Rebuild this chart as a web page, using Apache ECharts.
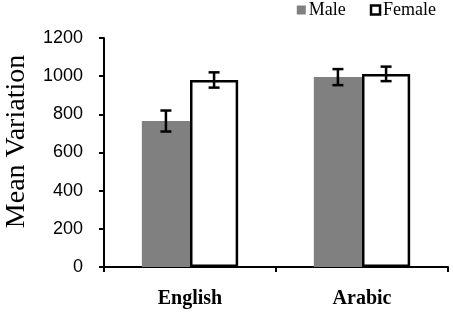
<!DOCTYPE html>
<html>
<head>
<meta charset="utf-8">
<script src="https://cdn.jsdelivr.net/npm/echarts@6/dist/echarts.min.js"></script>
<style>
  html, body { margin: 0; padding: 0; background: #fff; }
  #chart { width: 453px; height: 316px; }
</style>
</head>
<body>
<div id="chart"></div>
<script>
// data
var categories = ["English", "Arabic"];
var maleMean = [765, 995];
var maleErr = [55, 42];
var femaleMean = [980, 1012];
var femaleErr = [40, 38];
var yTicks = [0, 200, 400, 600, 800, 1000, 1200];

var gapPct = 44; // barCategoryGap in %

function errData(mean, err) {
  return mean.map(function (m, i) {
    return [i, m - err[i], m + err[i]];
  });
}

// error bar drawn at the left (-1) or right (+1) bar of a group
function errRender(side) {
  return function (params, api) {
    var lo = api.coord([api.value(0), api.value(1)]);
    var hi = api.coord([api.value(0), api.value(2)]);
    var catW = api.size([1, 0])[0];
    var barW = catW * (1 - gapPct / 100) / 2;
    var x = lo[0] + side * barW / 2;
    var cap = 5.5;
    var style = { stroke: "#000", lineWidth: 2.5 };
    return {
      type: "group",
      children: [
        { type: "line", shape: { x1: x, y1: lo[1], x2: x, y2: hi[1] }, style: style },
        { type: "line", shape: { x1: x - cap, y1: lo[1], x2: x + cap, y2: lo[1] }, style: style },
        { type: "line", shape: { x1: x - cap, y1: hi[1], x2: x + cap, y2: hi[1] }, style: style }
      ]
    };
  };
}

var chart = echarts.init(document.getElementById("chart"));
var option = {
  animation: false,
  backgroundColor: "#fff",
  legend: {
    top: -4,
    right: 12,
    itemWidth: 9,
    itemHeight: 9,
    itemGap: 24,
    icon: "rect",
    textStyle: { fontFamily: "Liberation Serif", fontSize: 18, color: "#000", padding: [0, 0, 0, -2] },
    data: [
      { name: "Male", itemStyle: { color: "#808080", borderWidth: 0 } },
      { name: "Female", itemStyle: { color: "#fff", borderColor: "#000", borderWidth: 2.5 } }
    ]
  },
  grid: { left: 104, right: 5, top: 38, bottom: 49, outerBoundsMode: "none" },
  xAxis: {
    type: "category",
    data: categories,
    axisLine: { lineStyle: { color: "#000", width: 2 } },
    axisTick: { show: true, length: 5, lineStyle: { color: "#000", width: 2 } },
    axisLabel: {
      margin: 22,
      fontFamily: "Liberation Serif",
      fontWeight: "bold",
      fontSize: 20,
      color: "#000"
    }
  },
  yAxis: {
    type: "value",
    min: yTicks[0],
    max: yTicks[yTicks.length - 1],
    interval: 200,
    name: "Mean Variation",
    nameLocation: "middle",
    nameGap: 73,
    nameTextStyle: { fontFamily: "Liberation Serif", fontSize: 28, color: "#000", padding: [0, 0, 0, 22] },
    splitLine: { show: false },
    axisLine: { show: true, lineStyle: { color: "#000", width: 2 } },
    axisTick: { show: true, length: 5, lineStyle: { color: "#000", width: 2 } },
    axisLabel: {
      margin: 21,
      fontFamily: "Liberation Sans",
      fontSize: 18,
      color: "#000",
      formatter: function (v) { return String(v); }
    }
  },
  series: [
    {
      name: "Male",
      type: "bar",
      data: maleMean,
      barGap: "0%",
      barCategoryGap: gapPct + "%",
      itemStyle: { color: "#808080" }
    },
    {
      name: "Female",
      type: "bar",
      data: femaleMean,
      itemStyle: { color: "#fff", borderColor: "#000", borderWidth: 2.5 }
    },
    {
      type: "custom",
      renderItem: errRender(-1),
      data: errData(maleMean, maleErr),
      encode: { x: 0, y: [1, 2] },
      z: 10
    },
    {
      type: "custom",
      renderItem: errRender(1),
      data: errData(femaleMean, femaleErr),
      encode: { x: 0, y: [1, 2] },
      z: 10
    }
  ]
};
chart.setOption(option);
</script>
</body>
</html>
